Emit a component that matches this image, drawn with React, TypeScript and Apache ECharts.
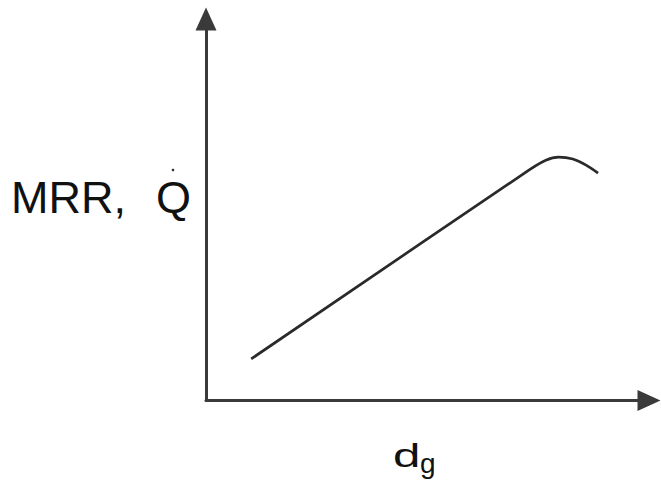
import React, { useEffect, useRef } from "react";
import * as echarts from "echarts";

// Curve (x: d_g, y: MRR / Q, arbitrary units 0-100)
const xValues = [10.2, 73.3, 76.7, 79.6, 82.8, 85.8, 88.5];
const yValues = [10.9, 60.7, 63.0, 63.8, 63.3, 61.7, 59.6];
const yLabel = "MRR,";
const yLabel2 = "Q";
const xLabelMain = "d";
const xLabelSub = "g";

export default function App() {
  const ref = useRef<HTMLDivElement>(null);
  useEffect(() => {
    if (!ref.current) return;
    const chart = echarts.init(ref.current, undefined, { renderer: "svg" });
    const axisColor = "#3a3a3a";
    const font = "Liberation Sans, Arial, sans-serif";
    chart.setOption({
      animation: false,
      backgroundColor: "#ffffff",
      grid: { left: 206, top: 19, right: 12, bottom: 87.5, containLabel: false },
      xAxis: {
        type: "value",
        min: 0,
        max: 100,
        axisLine: {
          show: true,
          symbol: ["none", "triangle"],
          symbolSize: [21, 23],
          lineStyle: { color: axisColor, width: 3 },
        },
        axisTick: { show: false },
        axisLabel: { show: false },
        splitLine: { show: false },
      },
      yAxis: {
        type: "value",
        min: 0,
        max: 100,
        axisLine: {
          show: true,
          symbol: ["none", "triangle"],
          symbolSize: [21, 23],
          lineStyle: { color: axisColor, width: 3 },
        },
        axisTick: { show: false },
        axisLabel: { show: false },
        splitLine: { show: false },
      },
      series: [
        {
          type: "line",
          data: xValues.map((x, i) => [x, yValues[i]]),
          smooth: 0.35,
          showSymbol: false,
          lineStyle: { color: "#2a2a2a", width: 2.7 },
        },
      ],
      graphic: [
        {
          type: "text",
          x: 11,
          y: 197,
          style: {
            text: yLabel,
            fontSize: 45,
            fontFamily: font,
            fill: "#111",
            align: "left",
            verticalAlign: "middle",
          },
        },
        {
          type: "text",
          x: 156,
          y: 197,
          style: {
            text: yLabel2,
            fontSize: 45,
            fontFamily: font,
            fill: "#111",
            align: "left",
            verticalAlign: "middle",
          },
        },
        {
          type: "circle",
          shape: { cx: 173, cy: 170, r: 1.3 },
          style: { fill: "#333" },
        },
        {
          type: "text",
          x: 393,
          y: 455,
          scaleX: 1.45,
          style: {
            text: xLabelMain,
            fontSize: 34,
            fontFamily: font,
            fill: "#111",
            align: "left",
            verticalAlign: "middle",
          },
        },
        {
          type: "text",
          x: 420,
          y: 463,
          style: {
            text: xLabelSub,
            fontSize: 28,
            fontFamily: font,
            fill: "#111",
            align: "left",
            verticalAlign: "middle",
          },
        },
      ],
    });
    return () => chart.dispose();
  }, []);
  return (
    <div
      ref={ref}
      style={{ position: "fixed", left: 0, top: 0, width: 661, height: 488 }}
    />
  );
}
